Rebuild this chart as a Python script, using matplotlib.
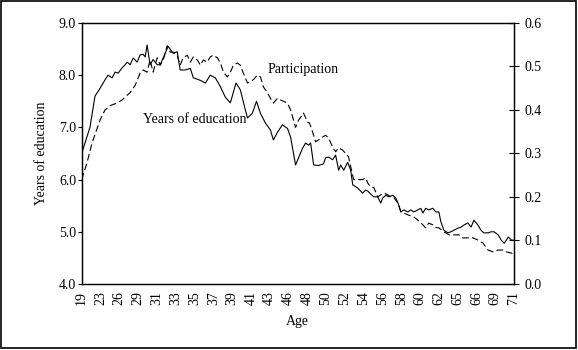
import matplotlib
matplotlib.use('Agg')
import matplotlib.pyplot as plt
from matplotlib.patches import Rectangle

# x tick labels (age), evenly spaced along the observation axis
age_labels = ['19', '23', '26', '29', '31', '33', '35', '37', '39', '41', '43', '46',
              '48', '50', '52', '54', '56', '58', '60', '62', '65', '66', '69', '71']

# years of education (left axis), position in tick units
edu_pos = [0.0, 0.44, 0.71, 0.98, 1.24, 1.40, 1.62, 1.78, 1.94, 2.15, 2.31, 2.42, 2.58,
           2.74, 2.95, 3.11, 3.27, 3.38, 3.48,
           3.64, 3.80, 4.02, 4.18, 4.44, 4.60, 4.87, 5.08, 5.24, 5.51, 5.78, 5.94, 6.32,
           6.58, 6.84, 7.11, 7.38, 7.64, 7.91, 8.21, 8.44, 8.71, 8.82, 9.08, 9.3, 9.51,
           9.78, 10.04, 10.20, 10.42, 10.68, 10.95, 11.11, 11.27, 11.38, 11.54, 11.75,
           11.91, 12.07, 12.18, 12.34, 12.60, 12.86, 12.98, 13.14, 13.35, 13.51, 13.67,
           13.78, 13.94, 14.15, 14.31, 14.42, 14.68, 14.95, 15.11, 15.22, 15.38, 15.54,
           15.75, 15.91, 16.02, 16.18, 16.34, 16.55, 16.71, 16.87, 16.98, 17.14, 17.35,
           17.51, 17.67, 17.88, 18.04, 18.15, 18.30, 18.46, 18.68, 18.84, 19.0, 19.11,
           19.27, 19.48, 19.64, 19.80, 20.02, 20.18, 20.34, 20.55, 20.71, 20.87, 21.08,
           21.24, 21.40, 21.62, 21.78, 21.94, 22.16, 22.32, 22.48, 22.70, 22.86, 23.0]
edu_val = [6.5, 7.0, 7.6, 7.75, 7.91, 8.0, 7.95, 8.06, 8.04, 8.14, 8.2, 8.25, 8.2,
           8.33, 8.25, 8.39, 8.4, 8.35, 8.58,
           8.2, 8.3, 8.2, 8.2, 8.42, 8.55, 8.42, 8.45, 8.1, 8.1, 8.13, 7.95, 7.9,
           7.85, 8.0, 7.95, 7.78, 7.58, 7.47, 7.85, 7.72, 7.33, 7.18, 7.27, 7.5, 7.27,
           7.08, 6.95, 6.76, 6.91, 7.05, 6.98, 6.82, 6.5, 6.28, 6.42, 6.6,
           6.7, 6.66, 6.7, 6.28, 6.27, 6.3, 6.42, 6.43, 6.38, 6.47, 6.18,
           6.28, 6.18, 6.33, 6.18, 5.9, 5.84, 5.74, 5.8, 5.78, 5.72, 5.67,
           5.67, 5.55, 5.65, 5.7, 5.67, 5.7, 5.65, 5.51, 5.38, 5.42, 5.38,
           5.42, 5.38, 5.42, 5.45, 5.36, 5.45, 5.42, 5.45, 5.38, 5.38, 5.19,
           5.03, 4.98, 5.0, 5.03, 5.07, 5.09, 5.13, 5.17, 5.09, 5.22, 5.13,
           5.03, 4.98, 4.98, 5.0, 5.0, 4.94, 4.84, 4.78, 4.9, 4.84, 4.84]

# participation (right axis)
part_pos = [0.0, 0.28, 0.55, 0.98, 1.24, 1.51, 1.88, 2.15, 2.42, 2.58, 2.85, 3.11, 3.27,
            3.48, 3.64, 3.80, 4.02, 4.18, 4.34, 4.55, 4.71, 4.87, 5.08, 5.24, 5.40, 5.62,
            5.78, 5.94, 6.15, 6.32, 6.47, 6.68, 6.84, 7.00, 7.22, 7.38, 7.54, 7.75, 7.91,
            8.07, 8.28, 8.44, 8.60, 8.82, 8.98, 9.14, 9.35, 9.51, 9.67, 9.88, 10.04, 10.20,
            10.42, 10.58, 10.74, 10.95, 11.11, 11.27, 11.38, 11.54, 11.75, 11.80, 12.02,
            12.12, 12.28, 12.44, 12.60, 12.82, 12.98, 13.14, 13.35, 13.51, 13.67, 13.88,
            14.04, 14.20, 14.31, 14.47, 14.68, 14.95, 15.11, 15.22, 15.38, 15.54, 15.75,
            15.91, 16.08, 16.28, 16.44, 16.62, 16.82, 16.98, 17.35, 17.67, 17.88, 18.15,
            18.30, 18.46, 18.68, 18.84, 19.0, 19.27, 19.54, 19.80, 20.07, 20.28, 20.55,
            20.71, 21.08, 21.35, 21.62, 21.88, 22.16, 22.42, 22.58, 22.86, 23.0]
part_val = [0.24, 0.278, 0.324, 0.377, 0.40, 0.41, 0.416, 0.423, 0.434, 0.44, 0.457, 0.485, 0.492,
            0.487, 0.515, 0.487, 0.52, 0.503, 0.515, 0.548, 0.533, 0.533, 0.526, 0.503, 0.52, 0.526,
            0.51, 0.522, 0.515, 0.503, 0.515, 0.51, 0.522, 0.526, 0.52, 0.508, 0.487, 0.476, 0.487,
            0.503, 0.508, 0.503, 0.485, 0.462, 0.465, 0.47, 0.48, 0.476, 0.453, 0.44, 0.427, 0.416,
            0.427, 0.423, 0.42, 0.416, 0.40, 0.377, 0.36, 0.377, 0.389, 0.393, 0.372,
            0.37, 0.35, 0.327, 0.331, 0.338, 0.342, 0.335, 0.315, 0.304, 0.313, 0.308,
            0.30, 0.292, 0.27, 0.24, 0.24, 0.24, 0.244, 0.232, 0.223, 0.222, 0.20,
            0.205, 0.209, 0.205, 0.20, 0.198, 0.186, 0.166, 0.159, 0.154, 0.147, 0.136,
            0.129, 0.14, 0.136, 0.13, 0.129, 0.12, 0.113, 0.113, 0.113, 0.106, 0.106,
            0.108, 0.101, 0.094, 0.078, 0.074, 0.078, 0.078, 0.074, 0.071, 0.068]

plt.rcParams['font.family'] = ['Liberation Serif', 'DejaVu Serif']
plt.rcParams['font.size'] = 10

fig = plt.figure(figsize=(5.78, 3.5), dpi=100)
ax = fig.add_axes([0.1413, 0.1886, 0.748, 0.7457])
ax2 = ax.twinx()

ax.plot(edu_pos, edu_val, color='black', lw=0.8)
ax2.plot(part_pos, part_val, color='black', lw=0.8, linestyle=(0, (6, 3)))

ax.set_xlim(0, 23)
ax.set_ylim(4, 9)
ax2.set_ylim(0, 0.6)

ax.set_xticks(range(len(age_labels)))
ax.set_xticklabels(age_labels, rotation=90)
ax.tick_params(axis='x', length=0, pad=5)
ax.set_yticks([4, 5, 6, 7, 8, 9])
ax.set_yticklabels(['%.1f' % v for v in [4, 5, 6, 7, 8, 9]])
ax.tick_params(axis='y', direction='out', length=3, width=0.8, pad=1)
ax2.set_yticks([0.0, 0.1, 0.2, 0.3, 0.4, 0.5, 0.6])
ax2.set_yticklabels(['%.1f' % v for v in [0.0, 0.1, 0.2, 0.3, 0.4, 0.5, 0.6]])
ax2.tick_params(axis='y', direction='inout', length=7, width=0.8, pad=4)

for a in (ax, ax2):
    for s in a.spines.values():
        s.set_linewidth(0.9)

ax.set_xlabel('Age', labelpad=7)
ax.set_ylabel('Years of education', labelpad=8)

ax.text(9.88, 8.10, 'Participation', ha='left', va='center')
ax.text(3.27, 7.16, 'Years of education', ha='left', va='center')

fig.patches.append(Rectangle((0.002, 0.006), 0.994, 0.99, transform=fig.transFigure,
                             fill=False, edgecolor='black', lw=1.2))

fig.savefig('out.png', dpi=100)
